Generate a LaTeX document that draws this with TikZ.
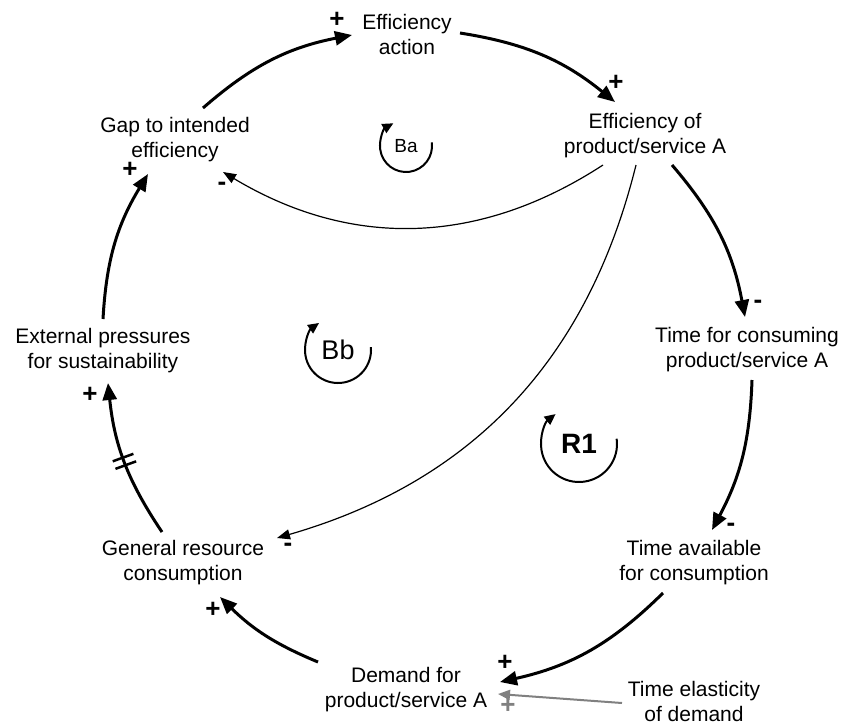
\documentclass[tikz,border=0pt]{standalone}
\usepackage{fontspec}
\setmainfont{Liberation Sans}
\usetikzlibrary{arrows.meta,decorations.markings}
\begin{document}
\begin{tikzpicture}[x=1pt,y=-1pt,
  var/.style={align=center,inner sep=0pt,font=\fontsize{21}{25}\selectfont},
  sgn/.style={inner sep=0pt,font=\fontsize{26}{30}\selectfont\bfseries},
  neg/.style={inner sep=0pt,font=\fontsize{26}{30}\selectfont\bfseries},
  causal/.style={line width=3pt,-{Triangle[length=17pt,width=14pt]}},
  weak/.style={line width=1.2pt,-{Triangle[length=13pt,width=10pt]}},
  elastic/.style={line width=2pt,draw=black!50,-{Triangle[length=12pt,width=10pt]}},
  loopmark/.style={line width=2pt,-{Triangle[length=11pt,width=10pt]}},
  delay/.style={postaction={decorate},decoration={markings,
    mark=at position 0.5 with {\draw[line width=2.5pt,-] (-4pt,-11pt)--(-4pt,11pt) (4pt,-11pt)--(4pt,11pt);}}},
]
\useasboundingbox[fill=white] (0,0) rectangle (848,726);

% variables
\node[var] (act) at (407,34)  {Efficiency\\action};
\node[var] (eff) at (645,136) {Efficiency of\\product/service A};
\node[var] (gap) at (175,140) {Gap to intended\\efficiency};
\node[var] (ext) at (103,351) {External pressures\\for sustainability};
\node[var] (tfc) at (747,350) {Time for consuming\\product/service A};
\node[var] (tav) at (694,563) {Time available\\for consumption};
\node[var] (gen) at (183,563) {General resource\\consumption};
\node[var] (dem) at (406,690) {Demand for\\product/service A};
\node[var] (tel) at (694,701) {Time elasticity\\of demand};

% main loop
\draw[causal] ([shift={(28,-32)}]gap.center) to[bend left=15] ([shift={(-55,1)}]act.center);
\draw[causal] ([shift={(53,-1)}]act.center) to[bend left=15] ([shift={(-30,-34)}]eff.center);
\draw[causal] ([shift={(27,29)}]eff.center) to[bend left=15] ([shift={(-2,-33)}]tfc.center);
\draw[causal] ([shift={(5,30)}]tfc.center) to[bend left=13] ([shift={(18,-33)}]tav.center);
\draw[causal] ([shift={(-31,30)}]tav.center) to[bend left=16] ([shift={(94,-8)}]dem.center);
\draw[causal] ([shift={(-88,-28)}]dem.center) to[bend left=11] ([shift={(37,34)}]gen.center);
\draw[causal,delay] ([shift={(-21,-31)}]gen.center) to[bend left=14] ([shift={(5,32)}]ext.center);
\draw[causal] ([shift={(0,-32)}]ext.center) to[bend left=14] ([shift={(-27,34)}]gap.center);

% links leaving the efficiency variable
\draw[weak] ([shift={(-42,29)}]eff.center) to[bend left=32] ([shift={(48,32)}]gap.center);
\draw[weak] ([shift={(-9,29)}]eff.center) to[bend left=30] ([shift={(94,-25)}]gen.center);

% elasticity link
\draw[elastic] ([shift={(-72,2)}]tel.center) -- ([shift={(92,4)}]dem.center);

% polarities
\node[sgn] at (337,20)  {+};
\node[sgn] at (616,83)  {+};
\node[neg] at (758,304) {-};
\node[neg] at (731,527) {-};
\node[sgn] at (505,663) {+};
\node[sgn] at (213,610) {+};
\node[sgn] at (90,395)  {+};
\node[sgn] at (130,170) {+};
\node[neg] at (222,186) {-};
\node[neg] at (288,547) {-};
\node[sgn,text=black!50] at (508,706) {+};

% loop identifiers
\node[inner sep=0pt,font=\fontsize{19}{20}\selectfont] (ba) at (406,146) {Ba};
\draw[loopmark] ([shift={(-8:26)}]ba.center) arc[start angle=-8,end angle=241,radius=26];
\node[inner sep=0pt,font=\fontsize{27}{28}\selectfont] (bb) at (338,350) {Bb};
\draw[loopmark] ([shift={(-5:33)}]bb.center) arc[start angle=-5,end angle=235,radius=33];
\node[inner sep=0pt,font=\fontsize{28}{30}\selectfont\bfseries] (r1) at (579,444) {R1};
\draw[loopmark] ([shift={(-8:38)}]r1.center) arc[start angle=-8,end angle=232,radius=38];
\end{tikzpicture}
\end{document}
